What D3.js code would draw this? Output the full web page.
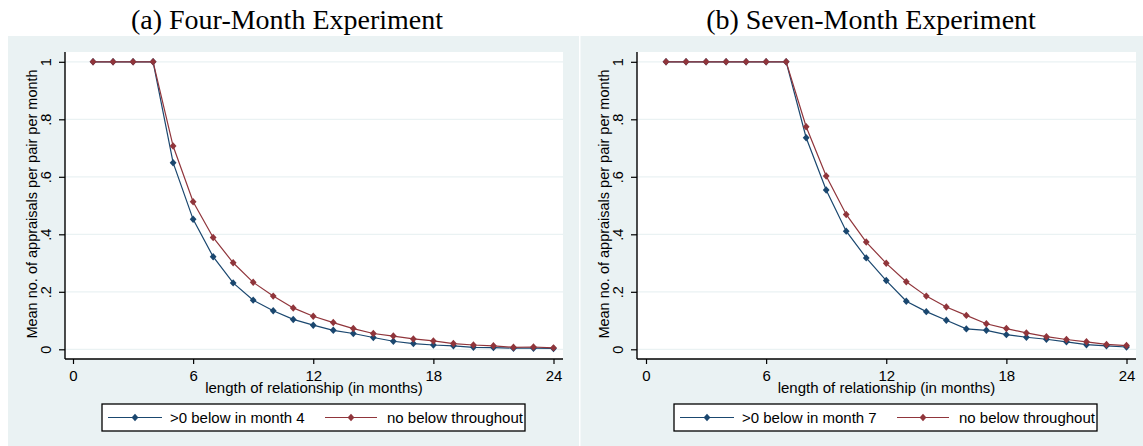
<!DOCTYPE html>
<html>
<head>
<meta charset="utf-8">
<script src="https://cdn.jsdelivr.net/npm/d3@7"></script>
<style>
  body { margin: 0; background: #fff; }
  text { font-family: "Liberation Sans", Arial, sans-serif; fill: #000; }
  .title { font-family: "Liberation Serif", "Times New Roman", serif; font-size: 28px; }
</style>
</head>
<body>
<div id="chart"></div>
<script>
// data
var months = [1, 2, 3, 4, 5, 6, 7, 8, 9, 10, 11, 12, 13, 14, 15, 16, 17, 18, 19, 20, 21, 22, 23, 24];
var fourBelow = [1, 1, 1, 1, 0.649, 0.452, 0.322, 0.231, 0.171, 0.134, 0.104, 0.084, 0.066, 0.055, 0.041, 0.028, 0.020, 0.015, 0.012, 0.007, 0.006, 0.004, 0.004, 0.003];
var fourNoBelow = [1, 1, 1, 1, 0.707, 0.513, 0.389, 0.301, 0.233, 0.185, 0.144, 0.115, 0.093, 0.072, 0.055, 0.046, 0.036, 0.029, 0.020, 0.015, 0.012, 0.007, 0.008, 0.005];
var sevenBelow = [1, 1, 1, 1, 1, 1, 1, 0.736, 0.554, 0.411, 0.318, 0.239, 0.167, 0.131, 0.101, 0.071, 0.066, 0.051, 0.042, 0.035, 0.026, 0.016, 0.012, 0.008];
var sevenNoBelow = [1, 1, 1, 1, 1, 1, 1, 0.774, 0.603, 0.469, 0.373, 0.299, 0.235, 0.185, 0.147, 0.118, 0.089, 0.072, 0.057, 0.044, 0.034, 0.026, 0.017, 0.013];

var xTicks = [0, 6, 12, 18, 24];
var yTicks = [0, 0.2, 0.4, 0.6, 0.8, 1];
var yTickLabels = ["0", ".2", ".4", ".6", ".8", "1"];
var titles = ["(a) Four-Month Experiment", "(b) Seven-Month Experiment"];
var legendFour = [">0 below in month 4", "no below throughout"];
var legendSeven = [">0 below in month 7", "no below throughout"];
var xTitle = "length of relationship (in months)";
var yTitle = "Mean no. of appraisals per pair per month";

var blue = "#1a476f", red = "#90353b", bg = "#eaf2f3";

var svg = d3.select("#chart")
  .append("svg")
    .attr("width", 1143)
    .attr("height", 446);

// Stata style diamond
var diamond = {
  draw: function(ctx, size) {
    var r = Math.sqrt(size) / 2;
    ctx.moveTo(0, -r * 1.1);
    ctx.lineTo(r, 0);
    ctx.lineTo(0, r * 1.1);
    ctx.lineTo(-r, 0);
    ctx.closePath();
  }
};
var marker = d3.symbol().type(diamond).size(46);

function drawPanel(p) {
  var g = svg.append("g");
  var top = 52, bottom = 359;

  g.append("rect")
    .attr("x", p.bgLeft).attr("y", 36)
    .attr("width", p.bgRight - p.bgLeft).attr("height", 410)
    .attr("fill", bg);

  g.append("rect")
    .attr("x", p.axisX).attr("y", top)
    .attr("width", p.plotRight - p.axisX).attr("height", bottom - top)
    .attr("fill", "#fff");

  var x = d3.scaleLinear().domain([0, 24]).range([p.x0, p.x0 + 480.5]);
  var y = d3.scaleLinear().domain([0, 1]).range([349.3, 61.8]);

  // grid
  g.selectAll(".grid")
    .data(yTicks)
    .enter()
    .append("line")
      .attr("x1", p.axisX).attr("x2", p.plotRight)
      .attr("y1", function(d) { return y(d); })
      .attr("y2", function(d) { return y(d); })
      .attr("stroke", bg)
      .attr("stroke-width", 1.2);

  // Y axis
  var ya = g.append("g")
    .attr("transform", "translate(" + p.axisX + ",0)")
    .call(d3.axisLeft(y).tickValues(yTicks).tickSize(6).tickSizeOuter(0)
      .tickFormat(function(d, i) { return yTickLabels[i]; }));
  ya.select(".domain").remove();
  ya.selectAll(".tick line").attr("stroke", "#000").attr("stroke-width", 1.2);
  ya.selectAll(".tick text")
    .attr("x", null).attr("dy", null)
    .attr("text-anchor", "middle")
    .attr("transform", "translate(-14,0) rotate(-90)")
    .style("font-size", "14.5px")
    .style("font-family", "Liberation Sans, Arial, sans-serif");
  g.append("line")
    .attr("x1", p.axisX).attr("x2", p.axisX)
    .attr("y1", top).attr("y2", bottom)
    .attr("stroke", "#000").attr("stroke-width", 1.4);

  // X axis
  var xa = g.append("g")
    .attr("transform", "translate(0," + bottom + ")")
    .call(d3.axisBottom(x).tickValues(xTicks).tickSize(5).tickSizeOuter(0));
  xa.select(".domain").remove();
  xa.selectAll(".tick line").attr("stroke", "#000").attr("stroke-width", 1.2);
  xa.selectAll(".tick text")
    .attr("y", 22).attr("dy", null)
    .style("font-size", "15px")
    .style("font-family", "Liberation Sans, Arial, sans-serif");
  g.append("line")
    .attr("x1", p.axisX).attr("x2", p.plotRight)
    .attr("y1", bottom).attr("y2", bottom)
    .attr("stroke", "#000").attr("stroke-width", 1.4);

  // axis titles
  g.append("text")
    .attr("x", (p.axisX + p.plotRight) / 2)
    .attr("y", 393)
    .attr("text-anchor", "middle")
    .style("font-size", "15px")
    .text(xTitle);
  g.append("text")
    .attr("transform", "translate(" + (p.axisX - 28) + ",204) rotate(-90)")
    .attr("text-anchor", "middle")
    .style("font-size", "14.5px")
    .text(yTitle);

  // series, blue under red
  [[p.below, blue], [p.noBelow, red]].forEach(function(s) {
    var pts = months.map(function(m, i) { return { m: m, v: s[0][i] }; });
    var line = d3.line()
      .x(function(d) { return x(d.m); })
      .y(function(d) { return y(d.v); });
    g.append("path")
      .attr("d", line(pts))
      .attr("fill", "none")
      .attr("stroke", s[1])
      .attr("stroke-width", 1.2);
    g.selectAll(null)
      .data(pts)
      .enter()
      .append("path")
        .attr("d", marker)
        .attr("transform", function(d) { return "translate(" + x(d.m) + "," + y(d.v) + ")"; })
        .attr("fill", s[1]);
  });

  // legend
  var lx = p.axisX + 37, ly = 404;
  g.append("rect")
    .attr("x", lx).attr("y", ly)
    .attr("width", 423).attr("height", 27)
    .attr("fill", "#fff")
    .attr("stroke", "#000")
    .attr("stroke-width", 1.3);
  var items = [
    { x1: 6, x2: 60, tx: 68, c: blue, label: p.legend[0] },
    { x1: 223, x2: 275, tx: 285, c: red, label: p.legend[1] }
  ];
  items.forEach(function(it) {
    g.append("line")
      .attr("x1", lx + it.x1).attr("x2", lx + it.x2)
      .attr("y1", ly + 13.5).attr("y2", ly + 13.5)
      .attr("stroke", it.c).attr("stroke-width", 1.2);
    g.append("path")
      .attr("d", marker)
      .attr("transform", "translate(" + (lx + (it.x1 + it.x2) / 2) + "," + (ly + 13.5) + ")")
      .attr("fill", it.c);
    g.append("text")
      .attr("x", lx + it.tx)
      .attr("y", ly + 19)
      .style("font-size", "15px")
      .text(it.label);
  });

  // panel title
  svg.append("text")
    .attr("class", "title")
    .attr("x", p.titleX)
    .attr("y", 29)
    .attr("text-anchor", "middle")
    .text(p.title);
}

drawPanel({
  bgLeft: 8, bgRight: 579, axisX: 65, plotRight: 563, x0: 73,
  titleX: 287, title: titles[0],
  below: fourBelow, noBelow: fourNoBelow, legend: legendFour
});
drawPanel({
  bgLeft: 580.5, bgRight: 1143, axisX: 637, plotRight: 1136, x0: 646,
  titleX: 871, title: titles[1],
  below: sevenBelow, noBelow: sevenNoBelow, legend: legendSeven
});
</script>
</body>
</html>
